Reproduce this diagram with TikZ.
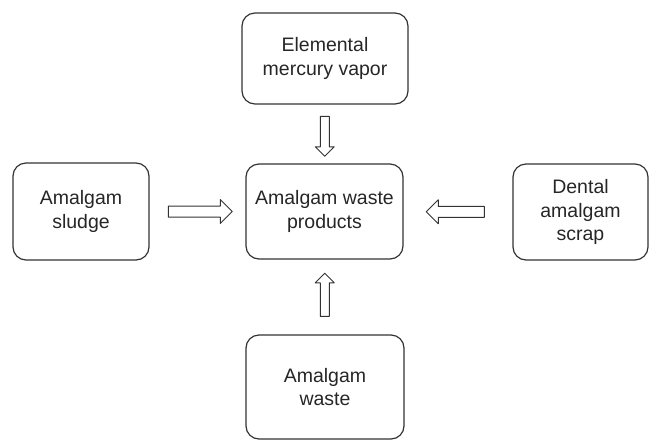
\documentclass[tikz,border=0pt]{standalone}
\usepackage{fontspec}
\setmainfont{Liberation Sans}
\usetikzlibrary{shapes.arrows,calc}
\begin{document}
\begin{tikzpicture}[x=1pt, y={(0pt,-1pt)}, line join=round,
	box/.style={draw=black!80, line width=1.2pt, rounded corners=13pt, align=center, inner sep=0pt,
		text=black!85, font=\fontsize{19.5}{23.5}\selectfont},
	flow/.style={single arrow, draw=black!80, line width=1pt, fill=white, inner xsep=0pt,
		single arrow head indent=0pt},
	vflow/.style={flow, inner ysep=4pt, single arrow head extend=5pt},
	hflow/.style={flow, inner ysep=5pt, single arrow head extend=6.5pt}]
	\useasboundingbox (0,0) rectangle (649,440);
	\node[box, minimum width=166pt, minimum height=91pt] (vapor) at (325,58.5) {Elemental\\mercury vapor};
	\node[box, minimum width=157pt, minimum height=95pt] (products) at (324.5,211.5) {Amalgam waste\\products};
	\node[box, minimum width=136pt, minimum height=97pt] (sludge) at (81,211.5) {Amalgam\\sludge};
	\node[box, minimum width=135pt, minimum height=96pt] (scrap) at (580.5,212) {Dental\\amalgam\\scrap};
	\node[box, minimum width=158pt, minimum height=104pt] (waste) at (325,387) {Amalgam\\waste};
	\node[vflow, rotate=-90, minimum height=40pt] (vaporin) at ($(vapor.south)!0.5!(products.north)$) {};
	\node[vflow, rotate=90, minimum height=43pt] (wastein) at ($(waste.north)!0.5!(products.south)$) {};
	\node[hflow, minimum height=64pt] (sludgein) at ($(sludge.east)!0.5!(products.west)$) {};
	\node[hflow, rotate=180, minimum height=58pt] (scrapin) at ($(scrap.west)!0.5!(products.east)$) {};
\end{tikzpicture}
\end{document}
